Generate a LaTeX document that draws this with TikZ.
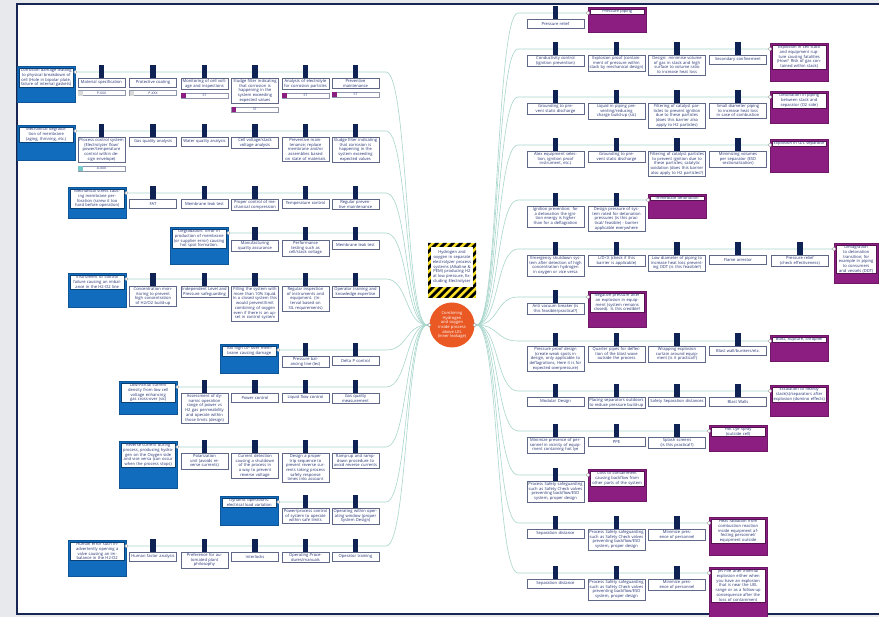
\documentclass[tikz,border=0pt]{standalone}
\usepackage{fontspec}
\setmainfont{Open Sans}
\usepackage{tikz}
\usepackage{xcolor}
\usetikzlibrary{backgrounds}

\definecolor{threatblue}{RGB}{18,108,190}
\definecolor{conspurple}{RGB}{140,30,130}
\definecolor{tabnavy}{RGB}{14,34,84}
\definecolor{boxline}{RGB}{95,105,135}
\definecolor{boxtext}{RGB}{35,50,115}
\definecolor{linkteal}{RGB}{168,214,204}
\definecolor{eventorange}{RGB}{234,88,36}
\definecolor{framenavy}{RGB}{24,38,84}
\definecolor{pagegray}{RGB}{232,233,236}
\definecolor{hazyellow}{RGB}{250,225,40}
\definecolor{tagteal}{RGB}{120,200,200}

\newcommand{\bowfont}{\fontsize{4.1}{4.7}\selectfont}
\newcommand{\barfont}{\fontsize{3.4}{3.4}\selectfont}

% barrier box with its tab on the line: [text width]{name}{x}{line y}{text}
\newcommand{\barrier}[5][45]{%
  \node[barrier, text width=#1pt, anchor=north] (#2) at (#3,#4+6) {#5};
  \fill[tabnavy] ([xshift=-2.6pt]#2.north) rectangle ([xshift=2.6pt,yshift=13pt]#2.north);
}
% small label strip under a barrier: {barrier}{colour}{text}
\newcommand{\barlabel}[3]{%
  \node[labelbar, anchor=north] (#1lab) at ([yshift=-3pt]#1.south) {#3};
  \fill[#2] ([xshift=0.3pt,yshift=-0.3pt]#1lab.north west) rectangle ([xshift=5pt,yshift=0.3pt]#1lab.south west);
}
% threat: {name}{left x}{top y}{height}{text}
\newcommand{\threat}[5]{%
  \node[threat, minimum height=#4, anchor=north west] (#1) at (#2,#3) {};
  \node[threattext, anchor=north] (#1txt) at ([yshift=-2pt]#1.north) {#5};
  \node[knob] (#1k) at ([yshift=-6pt]#1.north east) {};
}
% consequence: [width]{name}{left x}{top y}{height}{text}
\newcommand{\consequence}[6][58]{%
  \node[cons, minimum width=#1pt, minimum height=#5, anchor=north west] (#2) at (#3,#4) {};
  \node[constext, text width=#1pt-6pt, anchor=north] (#2txt) at ([yshift=-2pt]#2.north) {#6};
  \node[knob] (#2k) at ([yshift=-6pt]#2.north west) {};
}

\begin{document}
\begin{tikzpicture}[x=1pt, y=-1pt,
    barrier/.style={draw=boxline, line width=0.5pt, fill=white, text=boxtext, font=\bowfont,
      align=center, inner xsep=1pt, inner ysep=1.2pt, minimum height=9pt},
    labelbar/.style={draw=boxline!70, line width=0.4pt, fill=white, text=boxtext, font=\barfont,
      minimum width=47pt, minimum height=5pt, inner sep=0pt},
    threat/.style={fill=threatblue, draw=threatblue!80!black, line width=0.4pt, minimum width=58pt, inner sep=0pt},
    threattext/.style={fill=white, draw=threatblue!60!black, line width=0.3pt, text=boxtext, font=\bowfont,
      align=center, text width=52pt, inner sep=0.6pt},
    cons/.style={fill=conspurple, draw=conspurple!80!black, line width=0.4pt, inner sep=0pt},
    constext/.style={fill=white, draw=conspurple!60!black, line width=0.3pt, text=boxtext, font=\bowfont,
      align=center, inner sep=0.6pt},
    knob/.style={circle, draw=gray!80, fill=white, line width=0.4pt, inner sep=0pt, minimum size=3.6pt},
    link/.style={draw=linkteal, line width=0.6pt},
    topevent/.style={circle, fill=eventorange, text=white, font=\bowfont, align=center,
      text width=32pt, minimum size=45pt, inner sep=0pt},
    hazardtext/.style={fill=white, text=boxtext, font=\bowfont, align=center, text width=40pt,
      minimum width=42pt, minimum height=40pt, inner sep=1pt}]
    \useasboundingbox (0,0) rectangle (879,617);
    \clip (0,0) rectangle (879,617);

    % Page and frame
    \begin{pgfonlayer}{background}
        \fill[pagegray] (0,0) rectangle (879,617);
        \fill[white] (17,4) rectangle (879,614);
    \end{pgfonlayer}
    \draw[framenavy, line width=1.5pt] (880,4) -- (17,4) -- (17,614) -- (880,614);

    % Hazard (striped box) and top event
    \begin{scope}
        \clip (428,243) rectangle (476,298);
        \fill[hazyellow] (428,243) rectangle (476,298);
        \foreach \s in {-64,-56,...,56}
            \fill[black] (428+\s,298) -- (432+\s,298) -- (487+\s,243) -- (483+\s,243) -- cycle;
    \end{scope}
    \node[hazardtext] (hazard) at (452,267) {Hydrogen and oxygen in separate electrolyzer process systems (Alkaline \& PEM) producing H2 at low pressure, Excluding Electrolyser};
    \node[topevent] (top) at (452,325) {Combining Hydrogen and oxygen inside process above LEL (inner leakage)};
    \node[knob] (hubL) at (top.west) {};
    \node[knob] (hubR) at (top.east) {};

    % Threats (left)
    \threat{T1}{17}{66}{36}{Corrosion damage leading to physical breakdown of cell (Hole in bipolar plate, failure of internal gaskets)}
    \threat{T2}{17}{125}{35}{Mechanical degradation of membrane (aging, thinning, etc.)}
    \threat{T3}{68}{187}{31}{Mechanical stress causing membrane perforation (screw it too hard before operation)}
    \threat{T4}{170}{227}{37}{Degradation: Error in production of membrane (or supplier error) causing hot spot formation.}
    \threat{T5}{68}{273}{34}{Instrument or control failure causing an imbalance in the H2-O2 line}
    \threat{T6}{220}{344}{29}{Too high DP over membrane causing damage}
    \threat{T7}{119}{381}{33}{Low/Partial current density from low cell voltage enhancing gas cross-over (sic)}
    \threat{T8}{119}{441}{47}{Reverse current during process, producing hydrogen on the Oxygen side and vice versa (can occur when the process stops)}
    \threat{T9}{220}{496}{29}{Dynamic operations: electrical load variation}
    \threat{T10}{68}{540}{36}{Human error such inadvertently opening a valve causing an imbalance in the H2-O2}

    % Consequences (right)
    \consequence{C1}{588}{7}{25}{Pressure piping}
    \consequence{C2}{770}{43}{38}{Explosion in cell stack and equipment rupture causing fatalities (How? Risk of gas contained within stack)}
    \consequence{C3}{770}{91}{32}{Detonation in piping between stack and separator (O2 side)}
    \consequence{C4}{770}{139}{33}{Explosion in G/L separator}
    \consequence{C5}{648}{194}{24}{Immediate detonation}
    \consequence[44]{C6}{834}{243}{40}{Deflagration to detonation transition; for example in piping to consumers and vessels (DDT)}
    \consequence{C7}{588}{291}{36}{Negative pressure after an explosion in equipment (system remains closed). Is this credible?}
    \consequence{C8}{770}{335}{26}{Blast, Rupture, Shrapnel}
    \consequence{C9}{770}{385}{31}{Escalation to nearby stack(s)/separators after explosion (domino effects)}
    \consequence{C10}{709}{425}{26}{Hot Lye spray (outside cell)}
    \consequence{C11}{588}{469}{32}{Loss of containment causing backflow from other parts of the system}
    \consequence{C12}{709}{517}{38}{Heat radiation from combustion reaction inside equipment affecting personnel/ equipment outside}
    \consequence{C13}{709}{567}{50}{Jet Fire after internal explosion either when you have an explosion that is near the UEL range or as a follow-up consequence after the loss of containment}

    % Pathways from threats to the top event and on to the consequences
    \coordinate (bendL) at (386,0);
    \coordinate (bendR) at (518,0);
    \begin{pgfonlayer}{background}
        \foreach \n in {1,...,10}
            \draw[link] (T\n k) -- (T\n k -| bendL) to[out=0,in=180,distance=22pt] (hubL);
        \foreach \n in {1,...,13}
            \draw[link] (hubR) to[out=0,in=180,distance=22pt] (C\n k -| bendR) -- (C\n k);
    \end{pgfonlayer}

    % Barriers, left side
    \barrier{B11}{101.5}{72}{Material specification}
    \barrier{B12}{153}{72}{Protective coating}
    \barrier{B13}{204.5}{72}{Monitoring of cell voltage and inspections}
    \barrier{B14}{255}{72}{Sludge filter indicating that corrosion is happening in the system exceeding expected values}
    \barrier{B15}{305.5}{72}{Analysis of electrolyte for corrosion particles}
    \barrier{B16}{355.5}{72}{Preventive maintenance}
    \barlabel{B11}{gray!30}{P-XXX}
    \barlabel{B12}{gray!30}{P-XXX}
    \barlabel{B13}{conspurple}{ST}
    \barlabel{B14}{conspurple}{ST}
    \barlabel{B15}{conspurple}{ST}
    \barlabel{B16}{conspurple}{ST}

    \barrier{B21}{101.5}{131}{Process control system (Electrolyzer flow/ power/temperature control within design envelope)}
    \barrier{B22}{153}{131}{Gas quality analysis}
    \barrier{B23}{204.5}{131}{Water quality analysis}
    \barrier{B24}{255}{131}{Cell voltage/stack voltage analysis}
    \barrier{B25}{305.5}{131}{Preventive maintenance; replace membrane and/or assemblies based on state of materials}
    \barrier{B26}{355.5}{131}{Sludge filter indicating that corrosion is happening in the system exceeding expected values}
    \barlabel{B21}{tagteal}{A-XXX}

    \barrier{B32}{153}{193}{FAT}
    \barrier{B33}{204.5}{193}{Membrane leak test}
    \barrier{B34}{255}{193}{Proper control of mechanical compression}
    \barrier{B35}{305.5}{193}{Temperature control}
    \barrier{B36}{355.5}{193}{Regular preventive maintenance}

    \barrier{B44}{255}{234}{Manufacturing quality assurance}
    \barrier{B45}{305.5}{234}{Performance testing such as cell/stack voltage}
    \barrier{B46}{355.5}{234}{Membrane leak test}

    \barrier{B52}{153}{280}{Concentration monitoring to prevent high concentration of H2/O2 build-up}
    \barrier{B53}{204.5}{280}{Independent Level and Pressure safeguarding}
    \barrier{B54}{255}{280}{Filling the system with more than 10\% liquid. In a closed system this would prevent/limit combining of oxygen even if there is an upset in control system}
    \barrier{B55}{305.5}{280}{Regular inspection of instruments and equipment. (Interval based on SIL requirements)}
    \barrier{B56}{355.5}{280}{Operator training and knowledge expertise}

    \barrier{B65}{305.5}{350}{Pressure balancing line (lec)}
    \barrier{B66}{355.5}{350}{Delta P control}

    \barrier{B73}{204.5}{387}{Assessment of dynamic operation range of power vs H2 gas permeability and operate within those limits (design)}
    \barrier{B74}{255}{387}{Power control}
    \barrier{B75}{305.5}{387}{Liquid flow control}
    \barrier{B76}{355.5}{387}{Gas quality measurement}

    \barrier{B83}{204.5}{447}{Polarization unit (avoids reverse currents)}
    \barrier{B84}{255}{447}{Current detection causing a shutdown of the process in a way to prevent reverse voltage}
    \barrier{B85}{305.5}{447}{Design a proper trip sequence to prevent reverse currents taking process safety response times into account}
    \barrier{B86}{355.5}{447}{Ramp-up and ramp-down procedure to avoid reverse currents}

    \barrier{B95}{305.5}{502}{Power/process control of system to operate within safe limits}
    \barrier{B96}{355.5}{502}{Operating within operating window (proper System Design)}

    \barrier{B102}{153}{546}{Human factor analysis}
    \barrier{B103}{204.5}{546}{Preference for automated plant philosophy}
    \barrier{B104}{255}{546}{Interlocks}
    \barrier{B105}{305.5}{546}{Operating Procedures/manuals}
    \barrier{B106}{355.5}{546}{Operator training}

    % Barriers, right side
    \barrier[55]{D11}{555.5}{13}{Pressure relief}

    \barrier[55]{D21}{555.5}{49}{Conductivity control (ignition prevention)}
    \barrier[55]{D22}{616.5}{49}{Explosion proof (containment of pressure within stack by mechanical design)}
    \barrier[55]{D23}{677}{49}{Design: minimise volume of gas in stack and high surface to volume ratio to increase heat loss}
    \barrier[55]{D24}{738}{49}{Secondary confinement}

    \barrier[55]{D31}{555.5}{97}{Grounding to prevent static discharge}
    \barrier[55]{D32}{616.5}{97}{Liquid in piping preventing/reducing charge build-up (sic)}
    \barrier[55]{D33}{677}{97}{Filtering of catalyst particles to prevent ignition due to these particles (does this barrier also apply to H2 particles)}
    \barrier[55]{D34}{738}{97}{Small diameter piping to increase heat loss in case of combustion}

    \barrier[55]{D41}{555.5}{145}{Atex equipment selection, ignition proof instrument, etc.)}
    \barrier[55]{D42}{616.5}{145}{Grounding to prevent static discharge}
    \barrier[55]{D43}{677}{145}{Filtering of catalyst particles to prevent ignition due to these particles; catalytic oxidation (does this barrier also apply to H2 particles?)}
    \barrier[55]{D44}{738}{145}{Minimizing volumes per separator (ESD sectionalization)}

    \barrier[55]{D51}{555.5}{200}{Ignition prevention: for a detonation the ignition energy is higher than for a deflagration}
    \barrier[55]{D52}{616.5}{200}{Design pressure of system rated for detonation pressures (is this practical/ feasible) - barrier applicable everywhere}

    \barrier[55]{D61}{555.5}{249}{Emergency shutdown system after detection of high concentration hydrogen in oxygen or vice versa}
    \barrier[55]{D62}{616.5}{249}{L/D<X (check if this barrier is applicable)}
    \barrier[55]{D63}{677}{249}{Low diameter of piping to increase heat loss preventing DDT (is this feasible?)}
    \barrier[55]{D64}{738}{249}{Flame arrestor}
    \barrier[55]{D65}{800}{249}{Pressure relief (check effectiveness)}

    \barrier[55]{D71}{555.5}{297}{Anti vacuum breaker (is this feasible/practical?)}

    \barrier[55]{D81}{555.5}{340}{Pressure proof design (create weak spots in design, only applicable to deflagrations, Here it is for expected overpressure)}
    \barrier[55]{D82}{616.5}{340}{Quarter pipes for deflection of the blast wave outside the process}
    \barrier[55]{D83}{677}{340}{Wrapping explosion curtain around equipment (is it practical?)}
    \barrier[55]{D84}{738}{340}{Blast wall/bunkers/etc.}

    \barrier[55]{D91}{555.5}{391}{Modular Design}
    \barrier[55]{D92}{616.5}{391}{Placing separators outdoors to reduce pressure build-up}
    \barrier[55]{D93}{677}{391}{Safety Separation distances}
    \barrier[55]{D94}{738}{391}{Blast Walls}

    \barrier[55]{D101}{555.5}{431}{Minimize presence of personnel in vicinity of equipment containing hot lye}
    \barrier[55]{D102}{616.5}{431}{PPE}
    \barrier[55]{D103}{677}{431}{Splash screens (is this practical?)}

    \barrier[55]{D111}{555.5}{475}{Process Safety safeguarding such as Safety Check valves preventing backflow/ESD system, proper design}

    \barrier[55]{D121}{555.5}{523}{Separation distance}
    \barrier[55]{D122}{616.5}{523}{Process Safety safeguarding such as Safety Check valves preventing backflow/ESD system, proper design}
    \barrier[55]{D123}{677}{523}{Minimize presence of personnel}

    \barrier[55]{D131}{555.5}{573}{Separation distance}
    \barrier[55]{D132}{616.5}{573}{Process Safety safeguarding such as Safety Check valves preventing backflow/ESD system, proper design}
    \barrier[55]{D133}{677}{573}{Minimize presence of personnel}
\end{tikzpicture}
\end{document}
